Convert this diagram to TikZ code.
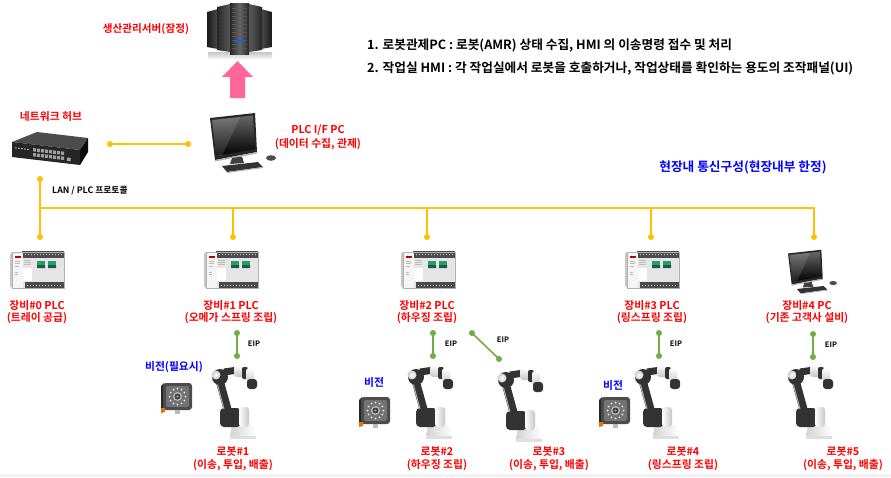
\documentclass[tikz,border=0pt]{standalone}
\usepackage{fontspec}
\setmainfont{Noto Sans CJK KR}[BoldFont={Noto Sans CJK KR Bold}]
\definecolor{busor}{RGB}{255,192,0}
\definecolor{eipgr}{RGB}{112,173,71}
\definecolor{lblred}{RGB}{255,0,0}
\definecolor{lblblue}{RGB}{0,0,255}
\definecolor{arrpink}{RGB}{255,102,153}
\definecolor{plcgreen}{RGB}{38,158,108}
\definecolor{camorange}{RGB}{220,120,20}
\tikzset{
  redlbl/.style={text=lblred, font=\bfseries\fontsize{10.8}{12}\selectfont, align=center, inner sep=0pt},
  botlbl/.style={text=lblred, font=\bfseries\fontsize{10.8}{13}\selectfont, align=center, inner sep=0pt},
  bluelbl/.style={text=lblblue, font=\bfseries\fontsize{10.8}{12}\selectfont, inner sep=0pt},
  notelbl/.style={text=black, font=\bfseries\fontsize{12.7}{14}\selectfont, inner sep=0pt, anchor=west},
  smalllbl/.style={text=black, font=\bfseries\fontsize{7.5}{8}\selectfont, inner sep=0pt},
  busline/.style={busor, line width=1.6pt},
  eipline/.style={eipgr, line width=1.6pt},
  iconbox/.style={draw=none, inner sep=0pt, outer sep=0pt, anchor=north west},
  plcicon/.pic={
    \fill[gray!45] (0,4) -- (2,2) -- (2,38) -- (0,36) -- cycle;
    \fill[gray!20] (2,2) rectangle (54,38);
    \fill[black!70] (12,1) rectangle (54,8);
    \foreach \i in {0,...,12} \fill[gray!30] (14.5+\i*3,3.5) rectangle ++(1.2,1.4);
    \fill[gray!8] (2,2) rectangle (13,38);
    \fill[red!75!black] (5,6) rectangle (11,8);
    \draw[gray!55, line width=0.5pt] (4.5,11)--(10,11) (4.5,13.5)--(10,13.5) (4.5,16)--(9,16) (4.5,22)--(8,22) (4.5,24.5)--(8,24.5);
    \fill[white] (13,18) rectangle (22,31);
    \draw[gray!50, line width=0.4pt] (14,10)--(21,10) (14,12)--(21,12) (14,14)--(21,14);
    \fill[plcgreen] (27,11) rectangle (35,18);
    \fill[plcgreen] (38,11) rectangle (46,18);
    \fill[plcgreen!60!black] (27,15) rectangle (35,18) (38,15) rectangle (46,18);
    \fill[black!70] (15,32) rectangle (54,38);
    \foreach \i in {0,...,11} \fill[gray!35] (17+\i*3,34.5) rectangle ++(1.2,1.2);
    \draw[gray!60, line width=0.4pt] (2,2) rectangle (54,38);
  },
  camicon/.pic={
    \fill[black!85] (0,3) -- (3,0) -- (3,28) -- (0,30) -- cycle;
    \fill[black!70, rounded corners=3pt] (2,0) rectangle (31,27);
    \fill[black!55, rounded corners=2pt] (5,3) rectangle (28,24);
    \foreach \a in {0,30,...,330} \fill[white!85!gray] (16.5,13.5) ++(\a:8) circle (1);
    \fill[gray!55] (16.5,13.5) circle (4.5);
    \fill[black!75] (16.5,13.5) circle (3);
    \fill[gray!70] (16.5,13.5) circle (1.2);
    \fill[camorange] (0,25) -- (4,25) -- (4,29) -- (0,30) -- cycle;
    \fill[gray!55] (14,27) rectangle (19,31);
  },
  roboticon/.pic={
    \shade[left color=gray!35, right color=white] (20,60) -- (42,60) -- (44,72) -- (18,72) -- cycle;
    \fill[gray!25] (18,71) rectangle (44,73.5);
    \fill[black!80, rounded corners=4pt] (8,43) rectangle (29,62);
    \shade[left color=white, right color=gray!45, rounded corners=3pt] (27,42) rectangle (37,62);
    \draw[black!80, line width=8pt, line cap=round] (16,46) -- (8,17);
    \draw[gray!60, line width=1pt] (12,44) -- (5,18);
    \fill[black!80] (8,12) circle (8);
    \shade[inner color=white, outer color=gray!40] (4,10) circle (4.5);
    \draw[black!80, line width=7pt] (12,7) -- (26,5);
    \shade[top color=white, bottom color=gray!45, rounded corners=3pt] (22,0) rectangle (32,12);
    \fill[black!80, rounded corners=2pt] (30,2) rectangle (36,14);
    \shade[top color=white, bottom color=gray!40, rounded corners=3pt] (34,3) rectangle (42,17);
    \fill[black!80, rounded corners=3pt] (35,14) rectangle (45,24);
  },
  pcicon/.pic={
    \fill[black!85] (0,6) -- (45,1) -- (47,40) -- (5,48) -- cycle;
    \shade[top color=black!60, bottom color=black] (2,8) -- (43,3.5) -- (45,37) -- (6,44) -- cycle;
    \fill[white, opacity=0.12] (2,8) -- (30,5) -- (12,44) -- (6,44) -- cycle;
    \fill[gray!60] (5,48) -- (47,40) -- (47,41.5) -- (5,49.5) -- cycle;
    \fill[black!75] (22,46) -- (32,44.5) -- (34,51) -- (20,52) -- cycle;
    \fill[black!80] (12,54) -- (48,50) -- (53,55) -- (17,60) -- cycle;
    \fill[gray!60] (17,60) -- (53,55) -- (53,56) -- (17,61) -- cycle;
    \fill[black!70] (61,46) ellipse (5 and 2.8);
  },
  hubicon/.pic={
    \fill[black!70] (0,10) -- (25,0) -- (76,6) -- (68,18) -- cycle;
    \fill[black!85] (0,10) -- (68,18) -- (68,33) -- (0,25) -- cycle;
    \fill[black!95] (68,18) -- (76,6) -- (76,20) -- (68,33) -- cycle;
    \begin{scope}[shift={(0,10)}, yslant=-0.1176]
      \foreach \i in {0,...,7} {
        \fill[gray!75] (21+\i*4,3.5) rectangle ++(3.2,3.4);
        \fill[gray!75] (21+\i*4,8.5) rectangle ++(3.2,3.4);
      }
      \fill[gray!70] (55,9) rectangle ++(3.5,3.4);
      \foreach \i in {0,...,4} \fill[gray!50] (3+\i*3,5) rectangle ++(1.5,1);
    \end{scope}
  },
}
\begin{document}
\begin{tikzpicture}[x=1pt,y=-1pt]
\path[use as bounding box, fill=white] (0,0) rectangle (891,477);
\fill[gray!10] (0,474) rectangle (891,477);

% ---------- server ----------
\node[iconbox, minimum width=68, minimum height=57] (server) at (205,2) {};
\begin{scope}[shift={(server.north west)}]
  \shade[top color=gray!45, bottom color=white] (3,50) -- (67,50) -- (67,58) -- (3,58) -- cycle;
  \shade[left color=black!90, right color=black!70] (2,10) -- (13,7) -- (13,47) -- (2,45) -- cycle;
  \shade[left color=black!70, right color=black!90] (56,7) -- (67,10) -- (67,45) -- (56,47) -- cycle;
  \shade[left color=black!85, right color=black!65] (12,5) -- (25,2) -- (25,50) -- (12,48) -- cycle;
  \shade[left color=black!65, right color=black!85] (44,2) -- (57,5) -- (57,48) -- (44,50) -- cycle;
  \shade[left color=black!85, right color=black!85, middle color=black!60] (25,1) rectangle (44,52);
  \foreach \y in {6,10,...,46} \draw[gray!70!black, line width=0.3pt] (27,\y) -- (42,\y);
  \foreach \y in {9,13,...,45} {
    \draw[gray!60!black, line width=0.3pt] (14,\y) -- (23,\y-0.5);
    \draw[gray!60!black, line width=0.3pt] (46,\y-0.5) -- (55,\y);
  }
  \fill[blue!60!cyan] (29,38) rectangle (40,40);
\end{scope}
\node[redlbl, font=\bfseries\fontsize{10.6}{11}\selectfont] (srvlbl) at (146,29) {생산관리서버(잠정)};
\fill[arrpink] (230,98) -- (245,98) -- (245,77) -- (253,77) -- (237.5,61) -- (222,77) -- (230,77) -- cycle;

% ---------- hub & PC ----------
\node[iconbox, minimum width=76, minimum height=33] (hub) at (12,132) {};
\pic at (hub.north west) {hubicon};
\node[redlbl] (hublbl) at (51,116) {네트워크 허브};
\node[iconbox, minimum width=67, minimum height=60] (pc) at (210,112) {};
\pic at (pc.north west) {pcicon};
\node[redlbl, font=\bfseries\fontsize{10.8}{14}\selectfont] (pclbl) at (318,137) {PLC I/F PC\\(데이터 수집, 관제)};
\coordinate (hubR) at (110,144);
\coordinate (pcL) at (188,144);
\draw[busline] (hubR) -- (pcL);
\fill[busor] (hubR) circle (3) (pcL) circle (3);

% ---------- notes ----------
\node[notelbl] (note1) at (367,46) {1. 로봇관제PC : 로봇(AMR) 상태 수집, HMI 의 이송명령 접수 및 처리};
\node[notelbl] (note2) at (367,68) {2. 작업실 HMI : 각 작업실에서 로봇을 호출하거나, 작업상태를 확인하는 용도의 조작패널(UI)};
\node[bluelbl, font=\bfseries\fontsize{12.7}{14}\selectfont] (title) at (743,167) {현장내 통신구성(현장내부 한정)};

% ---------- bus ----------
\coordinate (hubD) at (40,179);
\foreach \n/\x in {0/40,1/233,2/427,3/651,4/814} {
  \coordinate (t\n) at (\x,208);
  \coordinate (d\n) at (\x,237);
}
\draw[busline] (hubD) -- (d0);
\draw[busline] (t0) -| (d4);
\foreach \n in {1,2,3} \draw[busline] (t\n) -- (d\n);
\fill[busor] (hubD) circle (3);
\foreach \n in {0,...,4} \fill[busor] (d\n) circle (3);
\node[smalllbl, font=\bfseries\fontsize{8.8}{9}\selectfont, anchor=west] (lanlbl) at (52,191) {LAN / PLC 프로토콜};

% ---------- equipment ----------
\foreach \n/\x in {0/10,1/204,2/401,3/625} {
  \node[iconbox, minimum width=54, minimum height=39] (plc\n) at (\x,250) {};
  \pic at (plc\n.north west) {plcicon};
}
\node[iconbox, minimum width=50, minimum height=44] (pc4) at (788,249) {};
\pic[scale=0.74] at (pc4.north west) {pcicon};

\node[redlbl] (eq0) at (37,312) {장비\#0 PLC\\(트레이 공급)};
\node[redlbl] (eq1) at (231,312) {장비\#1 PLC\\(오메가 스프링 조립)};
\node[redlbl] (eq2) at (427,312) {장비\#2 PLC\\(하우징 조립)};
\node[redlbl] (eq3) at (652,312) {장비\#3 PLC\\(링스프링 조립)};
\node[redlbl] (eq4) at (807,312) {장비\#4 PC\\(기존 고객사 설비)};

% ---------- EIP links ----------
\coordinate (e1a) at (237,333); \coordinate (e1b) at (237,356);
\coordinate (e2a) at (433,333); \coordinate (e2b) at (433,356);
\coordinate (e3a) at (472,333); \coordinate (e3b) at (499,359);
\coordinate (e4a) at (659,333); \coordinate (e4b) at (659,356);
\coordinate (e5a) at (813,334); \coordinate (e5b) at (813,357);
\foreach \n in {1,...,5} {
  \draw[eipline] (e\n a) -- (e\n b);
  \fill[eipgr] (e\n a) circle (3) (e\n b) circle (3);
}
\node[smalllbl] (eip1) at (254,344) {EIP};
\node[smalllbl] (eip2) at (451,344) {EIP};
\node[smalllbl] (eip3) at (503,340) {EIP};
\node[smalllbl] (eip4) at (676,344) {EIP};
\node[smalllbl] (eip5) at (831,345) {EIP};

% ---------- robots ----------
\foreach \n/\x/\y in {1/212/365,2/408/365,3/498/368,4/635/365,5/788/365} {
  \node[iconbox, minimum width=45, minimum height=73] (rob\n) at (\x,\y) {};
  \pic at (rob\n.north west) {roboticon};
}
\node[botlbl] (rl1) at (233,458.5) {로봇\#1\\(이송, 투입, 배출)};
\node[botlbl] (rl2) at (437,458.5) {로봇\#2\\(하우징 조립)};
\node[botlbl] (rl3) at (549,458.5) {로봇\#3\\(이송, 투입, 배출)};
\node[botlbl] (rl4) at (683,458.5) {로봇\#4\\(링스프링 조립)};
\node[botlbl] (rl5) at (843,458.5) {로봇\#5\\(이송, 투입, 배출)};

% ---------- vision ----------
\foreach \n/\x/\y in {1/161/383,2/359/397,4/599/397} {
  \node[iconbox, minimum width=31, minimum height=31] (cam\n) at (\x,\y) {};
  \pic at (cam\n.north west) {camicon};
}
\node[bluelbl] (vl1) at (174,367) {비전(필요시)};
\node[bluelbl] (vl2) at (374,382) {비전};
\node[bluelbl] (vl4) at (613,385) {비전};
\end{tikzpicture}
\end{document}
